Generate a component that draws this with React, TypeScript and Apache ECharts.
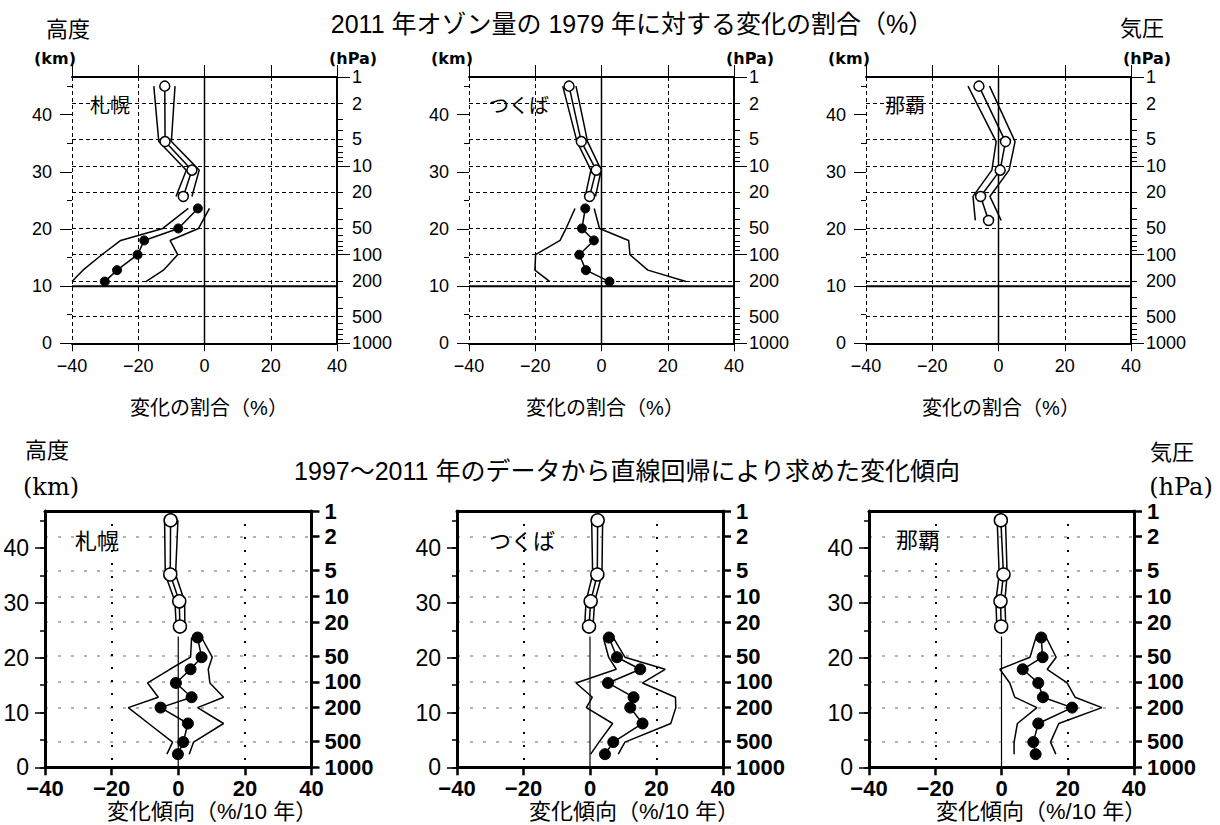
import React, { useEffect, useRef } from "react";
import * as echarts from "echarts";

// ---------- ticks ----------
const xTicks = [-40, -20, 0, 20, 40];
const bottomDottedX = [-20, 20];
const kmMinorTicks = [0, 5, 10, 15, 20, 25, 30, 35, 40, 45];
const kmMajorTicks = [0, 10, 20, 30, 40];
const pressureLabels = [1, 2, 5, 10, 20, 50, 100, 200, 500, 1000];
const pressureMinor = [1, 2, 3, 4, 5, 6, 7, 8, 9, 10, 20, 30, 40, 50, 60, 70, 80, 90, 100, 200, 300, 400, 500, 600, 700, 800, 900, 1000];
const pressureMajor = [1, 10, 100, 1000];

const stations = ["札幌", "つくば", "那覇"];

// ---------- top: 2011 vs 1979 (%) ----------
const topOpenLevels = [45.0, 35.3, 30.3, 25.7];
const topOpenLevelsNaha = [45.0, 35.3, 30.3, 25.7, 21.5];
const topFillLevels = [23.6, 20.1, 18.0, 15.5, 12.8, 10.8];

const sapTopOpen = [-12.0, -11.9, -3.8, -6.4];
const sapTopOpenLo = [-15.3, -13.8, -5.5, -8.6];
const sapTopOpenHi = [-8.9, -10.0, -1.6, -3.8];
const sapTopFill = [-2.0, -7.9, -18.2, -20.2, -26.4, -30.1];
const sapTopFillLo = [-4.9, -12.6, -25.3, -31.0, -36.7, -40.0];
const sapTopFillHi = [1.5, -1.8, -10.4, -8.1, -12.4, -17.7];

const tsuTopOpen = [-9.8, -6.1, -1.6, -3.6];
const tsuTopOpenLo = [-11.7, -7.4, -3.2, -4.9];
const tsuTopOpenHi = [-7.7, -4.2, -0.1, -1.8];
const tsuTopFill = [-4.9, -5.9, -2.3, -6.7, -4.7, 2.4];
const tsuTopFillLo = [-8.0, -10.7, -12.5, -19.9, -20.1, -15.6];
const tsuTopFillHi = [-2.2, -0.6, 8.2, 8.6, 14.0, 25.5];

const nahTopOpen = [-5.9, 2.1, 0.5, -5.4, -3.0];
const nahTopOpenLo = [-9.2, -0.7, -2.0, -7.7, -7.0];
const nahTopOpenHi = [-2.7, 5.0, 3.2, -2.6, 0.8];

// ---------- bottom: trend 1997-2011 (%/10yr) ----------
const botOpenLevels = [45.1, 35.2, 30.3, 25.7];
const botFillLevels = [23.7, 20.1, 17.9, 15.4, 12.8, 10.9, 8.0, 4.6, 2.4];
const botZeroTop = 23.9;

const sapBotOpen = [-2.3, -2.4, 0.3, 0.5];
const sapBotOpenLo = [-4.1, -3.9, -1.0, -0.6];
const sapBotOpenHi = [-0.1, -0.8, 1.9, 2.0];
const sapBotFill = [5.8, 7.0, 3.7, -0.7, 4.0, -5.3, 2.9, 1.5, -0.1];
const sapBotFillLo = [4.0, 3.7, -2.5, -9.2, -6.0, -15.0, -8.9, -1.7, -3.4];
const sapBotFillHi = [7.0, 10.2, 9.0, 9.5, 13.6, 5.8, 13.6, 4.6, 3.3];

const tsuBotOpen = [2.3, 2.2, 0.2, -0.3];
const tsuBotOpenLo = [0.5, 0.8, -1.2, -1.6];
const tsuBotOpenHi = [3.8, 3.6, 1.4, 0.9];
const tsuBotFill = [5.7, 8.1, 15.1, 5.4, 13.1, 12.1, 15.8, 7.0, 4.5];
const tsuBotFillLo = [4.0, 5.6, 7.9, -4.2, 0.7, -1.1, 6.8, 2.7, 0.2];
const tsuBotFillHi = [7.0, 10.5, 22.6, 15.8, 25.7, 25.8, 24.3, 10.5, 8.5];

const nahBotOpen = [-0.2, 0.6, -0.3, -0.1];
const nahBotOpenLo = [-1.3, -0.7, -1.7, -1.4];
const nahBotOpenHi = [1.2, 1.7, 1.0, 1.3];
const nahBotFill = [12.0, 12.4, 6.4, 11.1, 12.5, 21.3, 11.1, 9.6, 10.3];
const nahBotFillLo = [10.4, 8.6, -0.5, 2.5, 4.0, 10.7, 4.8, 3.8, 3.8];
const nahBotFillHi = [13.5, 16.5, 13.8, 19.8, 22.2, 30.3, 17.3, 14.8, 16.4];

const topTitle = "2011 年オゾン量の 1979 年に対する変化の割合（%）";
const bottomTitle = "1997〜2011 年のデータから直線回帰により求めた変化傾向";
const topAxisTitle = "変化の割合（%）";
const bottomAxisTitle = "変化傾向（%/10 年）";

const NUM_FONT = "Liberation Sans, Arial, Noto Sans CJK JP, sans-serif";
const JP_FONT = "Liberation Sans, Noto Sans CJK JP, sans-serif";

type Panel = {
  left: number; top: number; width: number; height: number; isTop: boolean; kmMax: number;
  openLevels: number[]; open: number[]; openLo: number[]; openHi: number[];
  fillLevels: number[]; fill: number[]; fillLo: number[]; fillHi: number[];
};

const panels: Panel[] = [
  { left: 72, top: 77, width: 265, height: 266.3, isTop: true, kmMax: 46.6,
    openLevels: topOpenLevels, open: sapTopOpen, openLo: sapTopOpenLo, openHi: sapTopOpenHi,
    fillLevels: topFillLevels, fill: sapTopFill, fillLo: sapTopFillLo, fillHi: sapTopFillHi },
  { left: 469, top: 77, width: 265, height: 266.3, isTop: true, kmMax: 46.6,
    openLevels: topOpenLevels, open: tsuTopOpen, openLo: tsuTopOpenLo, openHi: tsuTopOpenHi,
    fillLevels: topFillLevels, fill: tsuTopFill, fillLo: tsuTopFillLo, fillHi: tsuTopFillHi },
  { left: 866, top: 77, width: 265, height: 266.3, isTop: true, kmMax: 46.6,
    openLevels: topOpenLevelsNaha, open: nahTopOpen, openLo: nahTopOpenLo, openHi: nahTopOpenHi,
    fillLevels: [], fill: [], fillLo: [], fillHi: [] },
  { left: 45, top: 511, width: 266.5, height: 256.3, isTop: false, kmMax: 46.8,
    openLevels: botOpenLevels, open: sapBotOpen, openLo: sapBotOpenLo, openHi: sapBotOpenHi,
    fillLevels: botFillLevels, fill: sapBotFill, fillLo: sapBotFillLo, fillHi: sapBotFillHi },
  { left: 457, top: 511, width: 266, height: 256.3, isTop: false, kmMax: 46.8,
    openLevels: botOpenLevels, open: tsuBotOpen, openLo: tsuBotOpenLo, openHi: tsuBotOpenHi,
    fillLevels: botFillLevels, fill: tsuBotFill, fillLo: tsuBotFillLo, fillHi: tsuBotFillHi },
  { left: 869, top: 511, width: 265, height: 256.3, isTop: false, kmMax: 46.8,
    openLevels: botOpenLevels, open: nahBotOpen, openLo: nahBotOpenLo, openHi: nahBotOpenHi,
    fillLevels: botFillLevels, fill: nahBotFill, fillLo: nahBotFillLo, fillHi: nahBotFillHi },
];

const fmtX = (v: number) => (v < 0 ? "\u2212" + Math.abs(v) : String(v));
const lg = (p: number) => Math.log10(p);

function buildOption() {
  const grid: any[] = [];
  const xAxis: any[] = [];
  const yAxis: any[] = [];
  const series: any[] = [];

  panels.forEach((p, gi) => {
    const isTop = p.isTop;
    const frameW = isTop ? 2 : 3;
    grid.push({ left: p.left, top: p.top, width: p.width, height: p.height, containLabel: false });

    const xb = xAxis.length;
    xAxis.push({
      gridIndex: gi, type: "value", min: -40, max: 40, interval: 20, position: "bottom",
      axisLine: { show: true, onZero: false, lineStyle: { color: "#000", width: frameW } },
      axisTick: { show: true, inside: false, length: 8, lineStyle: { color: "#000", width: isTop ? 1 : 2.5 } },
      axisLabel: {
        show: true, margin: isTop ? 14 : 10, color: "#000", fontSize: isTop ? 18 : 22,
        fontWeight: isTop ? "normal" : "bold", fontFamily: NUM_FONT, formatter: fmtX,
      },
      splitLine: isTop ? { show: true, lineStyle: { color: "#000", width: 1, type: [4, 3] } } : { show: false },
    });
    xAxis.push({
      gridIndex: gi, type: "value", min: -40, max: 40, interval: 20, position: "top",
      axisLine: { show: true, onZero: false, lineStyle: { color: "#000", width: frameW } },
      axisTick: isTop
        ? { show: true, inside: false, length: 12, customValues: xTicks, lineStyle: { color: "#000", width: 1 } }
        : { show: false, customValues: bottomDottedX },
      axisLabel: { show: false },
      splitLine: isTop ? { show: false } : { show: true, lineStyle: { color: "#000", width: 2, type: [2, 11] } },
    });

    const yKm = yAxis.length;
    yAxis.push({
      gridIndex: gi, type: "value", min: 0, max: p.kmMax, position: "left",
      axisLine: { show: !isTop, onZero: false, lineStyle: { color: "#000", width: 3 } },
      axisTick: { show: true, inside: false, length: 5, customValues: kmMinorTicks, lineStyle: { color: "#000", width: isTop ? 1 : 1.5 } },
      axisLabel: {
        show: true, customValues: kmMajorTicks, margin: isTop ? 20 : 16, color: "#000",
        fontSize: isTop ? 18 : 23, lineHeight: isTop ? 20 : 18, fontFamily: NUM_FONT,
      },
      splitLine: { show: false },
    });
    yAxis.push({
      gridIndex: gi, type: "value", min: 0, max: p.kmMax, position: "left",
      axisLine: { show: false, onZero: false },
      axisTick: { show: true, inside: false, length: isTop ? 12 : 10, customValues: kmMajorTicks, lineStyle: { color: "#000", width: isTop ? 1 : 1.5 } },
      axisLabel: { show: false },
      splitLine: { show: false },
    });
    yAxis.push({
      gridIndex: gi, type: "value", min: 0, max: 3, inverse: true, position: "right",
      axisLine: { show: true, onZero: false, lineStyle: { color: "#000", width: frameW } },
      axisTick: { show: true, inside: false, length: isTop ? 6 : 8, customValues: pressureLabels.map(lg), lineStyle: { color: "#000", width: isTop ? 1 : 2.5 } },
      axisLabel: {
        show: true, customValues: pressureLabels.map(lg), margin: isTop ? 15 : 13, color: "#000",
        fontSize: isTop ? 18 : 22, fontWeight: isTop ? "normal" : "bold", fontFamily: NUM_FONT,
        formatter: (v: number) => String(Math.round(Math.pow(10, v))),
      },
      splitLine: {
        show: true,
        lineStyle: isTop ? { color: "#000", width: 1, type: [4, 3] } : { color: "#9a9a9a", width: 1.5, type: [3, 10] },
      },
    });
    if (isTop) {
      yAxis.push({
        gridIndex: gi, type: "value", min: 0, max: 3, inverse: true, position: "right",
        axisLine: { show: false, onZero: false },
        axisTick: { show: true, inside: false, length: 6, customValues: pressureMinor.map(lg), lineStyle: { color: "#000", width: 1 } },
        axisLabel: { show: false }, splitLine: { show: false },
      });
      yAxis.push({
        gridIndex: gi, type: "value", min: 0, max: 3, inverse: true, position: "right",
        axisLine: { show: false, onZero: false },
        axisTick: { show: true, inside: false, length: 13, customValues: pressureMajor.map(lg), lineStyle: { color: "#000", width: 1 } },
        axisLabel: { show: false }, splitLine: { show: false },
      });
    }

    const base = { type: "line", xAxisIndex: xb, yAxisIndex: yKm, silent: true, clip: false, animation: false };
    const plain = (xs: number[], lv: number[], w: number, z = 2) => ({
      ...base, symbol: "none", z,
      data: xs.map((x, i) => [x, lv[i]]),
      lineStyle: { color: "#000", width: w },
    });

    // zero line
    series.push(plain([0, 0], [0, isTop ? p.kmMax : botZeroTop], isTop ? 1.5 : 1.2, 1));
    if (isTop) series.push(plain([-40, 40], [10, 10], 2, 1));

    // open (upper) part
    series.push(plain(p.openLo, p.openLevels, 1.5));
    series.push(plain(p.openHi, p.openLevels, 1.5));
    series.push({
      ...base, z: 4, symbol: "circle", symbolSize: isTop ? 10 : 13, showSymbol: true,
      data: p.open.map((x, i) => [x, p.openLevels[i]]),
      lineStyle: { color: "#000", width: 1.5 },
      itemStyle: { color: "#fff", borderColor: "#000", borderWidth: 1.5 },
    });

    // filled (lower) part
    if (p.fill.length) {
      series.push(plain(p.fillLo, p.fillLevels, 1.5));
      series.push(plain(p.fillHi, p.fillLevels, 1.5));
      series.push({
        ...base, z: 4, symbol: "circle", symbolSize: isTop ? 9 : 11, showSymbol: true,
        data: p.fill.map((x, i) => [x, p.fillLevels[i]]),
        lineStyle: { color: "#000", width: 1.5 },
        itemStyle: { color: "#000", borderColor: "#000", borderWidth: 1 },
      });
    }
  });

  const txt = (text: string, x: number, y: number, font: string, align = "center") => ({
    type: "text", x, y, silent: true, z: 100,
    style: { text, font, fill: "#000", textAlign: align, textVerticalAlign: "middle" },
  });

  const unitTop = "bold 16px DejaVu Sans, sans-serif";
  const graphic = [
    // top figure
    txt("高度", 68, 29, `22px ${JP_FONT}`),
    txt(topTitle, 632, 24, `25px ${JP_FONT}`),
    txt("気圧", 1142, 28, `22px ${JP_FONT}`),
    txt("(km)", 55, 58, unitTop),
    txt("(km)", 452, 58, unitTop),
    txt("(km)", 849, 58, unitTop),
    txt("(hPa)", 353, 58, unitTop),
    txt("(hPa)", 750, 58, unitTop),
    txt("(hPa)", 1147, 58, unitTop),
    txt(stations[0], 110, 106, `20px ${JP_FONT}`),
    txt(stations[1], 519, 106, `20px ${JP_FONT}`),
    txt(stations[2], 905, 106, `20px ${JP_FONT}`),
    txt(topAxisTitle, 209, 408, `20px ${JP_FONT}`),
    txt(topAxisTitle, 605, 408, `20px ${JP_FONT}`),
    txt(topAxisTitle, 1001, 408, `20px ${JP_FONT}`),
    // bottom figure
    txt("高度", 47, 450, `22px ${JP_FONT}`),
    txt("(km)", 51, 487, "24px DejaVu Serif, Liberation Serif, serif"),
    txt(bottomTitle, 627, 471, `25px ${JP_FONT}`),
    txt("気圧", 1172, 452, `22px ${JP_FONT}`),
    txt("(hPa)", 1181, 487, "24px DejaVu Serif, Liberation Serif, serif"),
    txt(stations[0], 97, 541, `22px ${JP_FONT}`),
    txt(stations[1], 522, 541, `22px ${JP_FONT}`),
    txt(stations[2], 918, 540, `22px ${JP_FONT}`),
    txt(bottomAxisTitle, 212, 811, `22px ${JP_FONT}`),
    txt(bottomAxisTitle, 634, 811, `22px ${JP_FONT}`),
    txt(bottomAxisTitle, 1041, 811, `22px ${JP_FONT}`),
  ];

  return {
    animation: false,
    backgroundColor: "#fff",
    textStyle: { fontFamily: NUM_FONT },
    grid, xAxis, yAxis, series, graphic,
  };
}

export default function App() {
  const ref = useRef<HTMLDivElement>(null);
  useEffect(() => {
    if (!ref.current) return;
    const chart = echarts.init(ref.current, undefined, { renderer: "svg" });
    chart.setOption(buildOption() as any);
    return () => chart.dispose();
  }, []);
  return (
    <div
      ref={ref}
      style={{ position: "absolute", left: 0, top: 0, width: 1220, height: 825, background: "#fff" }}
    />
  );
}
